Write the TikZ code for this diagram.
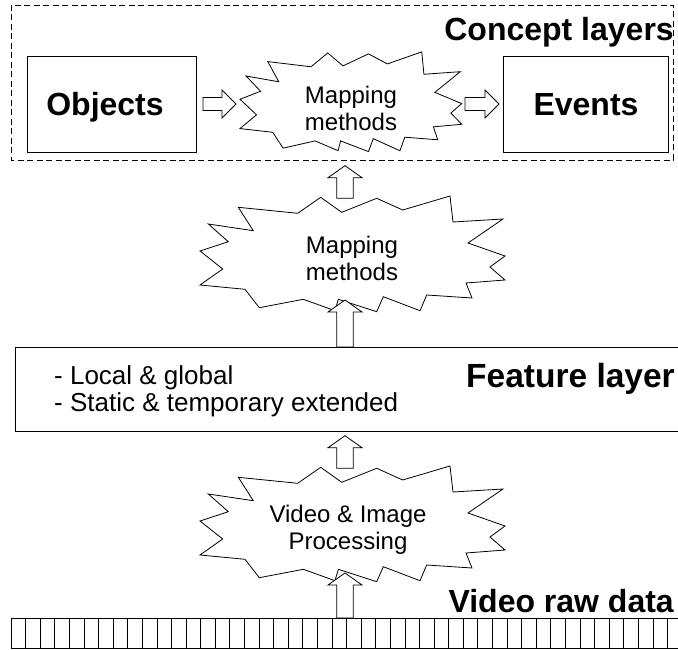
\documentclass[tikz,border=0pt]{standalone}
\usepackage{fontspec}
\setmainfont{Liberation Sans}
\begin{document}
\begin{tikzpicture}[x=1pt,y=-1pt,
  outline/.style={draw=black,line width=0.8pt},
  burst/.style={outline,fill=white,line join=miter},
  blockarrow/.style={outline,fill=white,line join=miter},
  boldlabel/.style={font=\bfseries\fontsize{32}{38}\selectfont,inner sep=0pt},
  layerlabel/.style={boldlabel,anchor=base east},
  conceptbox/.style={outline,minimum height=96pt},
  bursttext/.style={font=\fontsize{24}{27}\selectfont,align=center,inner sep=0pt},
  featuretext/.style={font=\fontsize{26}{29}\selectfont,inner sep=0pt,anchor=base west},
]
\useasboundingbox (0,0) rectangle (678,650);

% explosion outline, drawn at the size of the middle burst
\def\burstpoly{(238.3,207.3) -- (297.7,213.3) -- (320.7,197.3) -- (341.7,212.3) -- (376.7,198.3) -- (402.7,210) -- (450,196) -- (453,222) -- (503,219) -- (468,243) -- (505,256) -- (490,267) -- (505,280) -- (466,283) -- (472,298) -- (426.7,295) -- (420,310.7) -- (383.3,296.7) -- (376.7,311.7) -- (338.3,299.3) -- (335,310.7) -- (303.3,299.3) -- (259.3,307.7) -- (245,289.3) -- (200,285) -- (222.7,269) -- (200,251) -- (228.3,241.7) -- (208.3,224) -- (253.3,230.7) -- cycle}

% block arrows
\newcommand\blockup[3]{% x, tip y, tail y
  \draw[blockarrow] (#1,#2) -- (#1+17,#2+12) -- (#1+8.3,#2+12) -- (#1+8.3,#3) -- (#1-8.3,#3) -- (#1-8.3,#2+12) -- (#1-17,#2+12) -- cycle;}
\newcommand\blockright[3]{% tail x, tip x, y
  \draw[blockarrow] (#2,#3) -- (#2-14,#3-14) -- (#2-14,#3-6.5) -- (#1,#3-6.5) -- (#1,#3+6.5) -- (#2-14,#3+6.5) -- (#2-14,#3+14) -- cycle;}

% concept layer frame
\draw[outline,dash pattern=on 6pt off 3.5pt] (11,5) rectangle (673,160);
\node[layerlabel] (conceptlbl) at (674,41) {Concept layers};

\node[conceptbox,minimum width=169pt] (objects) at (111.5,104) {};
\node[boldlabel,anchor=base] (objlbl) at (105,115.5) {Objects};
\node[conceptbox,minimum width=165pt] (events) at (585.5,104) {};
\node[boldlabel,anchor=base] (evlbl) at (586,115.5) {Events};

% top burst
\begin{scope}[shift={(240,51)},xscale=0.727,yscale=0.862,shift={(-200,-195)}]
  \draw[burst] \burstpoly;
\end{scope}
\node[bursttext] (map1) at (351,108.5) {Mapping\\methods};

\blockright{203}{236}{104}
\blockright{465}{499}{104}

% middle burst
\draw[burst] \burstpoly;
\node[bursttext] (map2) at (352,258.5) {Mapping\\methods};

\blockup{345}{165.7}{198.3}
\blockup{345}{300}{347}

% feature layer
\draw[outline] (678,347) -- (15,347) -- (15,431) -- (678,431);
\node[featuretext] (feat1) at (54,384) {- Local \& global};
\node[featuretext] (feat2) at (54,411) {- Static \& temporary extended};
\node[layerlabel,font=\bfseries\fontsize{33.5}{40}\selectfont] (featlbl) at (675,387) {Feature layer};

% processing burst
\begin{scope}[shift={(0,270)}]
  \draw[burst] \burstpoly;
\end{scope}
\node[bursttext] (proc) at (348,530) {Video \& Image\\Processing};

\blockup{345}{435.7}{468.3}
\blockup{345}{573}{618}

% raw video frames
\node[layerlabel] (rawlbl) at (674,612) {Video raw data};
\draw[outline] (678,618) -- (11,618) -- (11,648) -- (678,648);
\foreach \k in {1,...,45} \draw[outline] (11+14.59*\k,618) -- (11+14.59*\k,648);
\end{tikzpicture}
\end{document}
